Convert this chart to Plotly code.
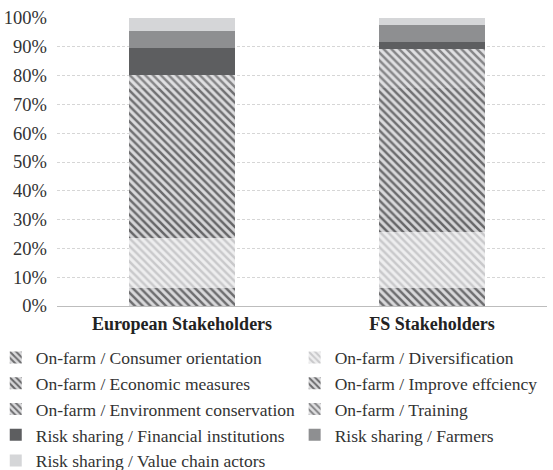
import plotly.graph_objects as go

# Stakeholder groups on the category axis
groups = ["European Stakeholders", "FS Stakeholders"]

# Share of responses (%) per strategy, stacked bottom to top
consumer_orientation = [6.3, 6.1]
diversification = [17.3, 19.7]
economic_measures = [6.4, 5.2]
improve_efficiency = [25.0, 24.0]
environment_conservation = [20.8, 20.7]
training = [4.5, 13.5]
financial_institutions = [9.2, 2.4]
farmers = [6.0, 6.0]
value_chain_actors = [4.5, 2.4]

y_ticks = [0, 10, 20, 30, 40, 50, 60, 70, 80, 90, 100]

# (name, values, pattern or solid colour, legend column)
series = [
    ("On-farm / Consumer orientation", consumer_orientation,
     dict(fg="#6d6d6f", bg="#d9d9db"), "legend"),
    ("On-farm / Diversification", diversification,
     dict(fg="#c9c9cb", bg="#eeeeef"), "legend2"),
    ("On-farm / Economic measures", economic_measures,
     dict(fg="#656567", bg="#d5d5d7"), "legend"),
    ("On-farm / Improve effciency", improve_efficiency,
     dict(fg="#6b6b6d", bg="#d9d9db"), "legend2"),
    ("On-farm / Environment conservation", environment_conservation,
     dict(fg="#6f6f71", bg="#dbdbdd"), "legend"),
    ("On-farm / Training", training,
     dict(fg="#858587", bg="#e0e0e2"), "legend2"),
    ("Risk sharing / Financial institutions", financial_institutions,
     "#5d5e60", "legend"),
    ("Risk sharing / Farmers", farmers, "#8e8f91", "legend2"),
    ("Risk sharing / Value chain actors", value_chain_actors,
     "#d5d6d8", "legend"),
]

fig = go.Figure()
for name, vals, style, leg in series:
    if isinstance(style, dict):
        marker = dict(
            color=style["bg"],
            pattern=dict(shape="\\", fgcolor=style["fg"], bgcolor=style["bg"],
                         size=5.5, solidity=0.45, fillmode="replace"),
            line=dict(width=0))
    else:
        marker = dict(color=style, line=dict(width=0))
    fig.add_trace(go.Bar(x=groups, y=vals, name=name, marker=marker,
                         legend=leg))

serif = "Liberation Serif, Times New Roman, serif"
legend_font = dict(family=serif, size=17.5, color="#333333")

fig.update_layout(
    barmode="stack",
    bargap=0.576,
    width=553, height=470,
    margin=dict(l=57, r=6, t=18, b=164, autoexpand=False),
    paper_bgcolor="white", plot_bgcolor="white",
    font=dict(family=serif, size=18, color="#333333"),
    showlegend=True,
    legend=dict(
        orientation="v", x=-0.125, xanchor="left", y=-0.117, yanchor="top",
        font=legend_font, traceorder="normal", bgcolor="rgba(0,0,0,0)",
    ),
    legend2=dict(
        orientation="v", x=0.485, xanchor="left", y=-0.117, yanchor="top",
        font=legend_font, traceorder="normal", bgcolor="rgba(0,0,0,0)",
    ),
    xaxis=dict(
        type="category", range=[-0.5, 1.46],
        showgrid=False, showline=False, ticks="", ticklabelstandoff=5,
        tickfont=dict(family=serif, size=18, color="#222222", weight="bold"),
    ),
    yaxis=dict(
        range=[0, 100], tickvals=y_ticks,
        ticktext=[f"{v}%" for v in y_ticks],
        showgrid=True, gridcolor="#d6d6d6", gridwidth=1, griddash="3px,2px",
        zeroline=True, zerolinecolor="#bdbdbd", zerolinewidth=1,
        showline=False, ticks="", ticklabelstandoff=9,
        tickfont=dict(family=serif, size=18.5, color="#333333"),
    ),
)

fig.write_html("out.html")
